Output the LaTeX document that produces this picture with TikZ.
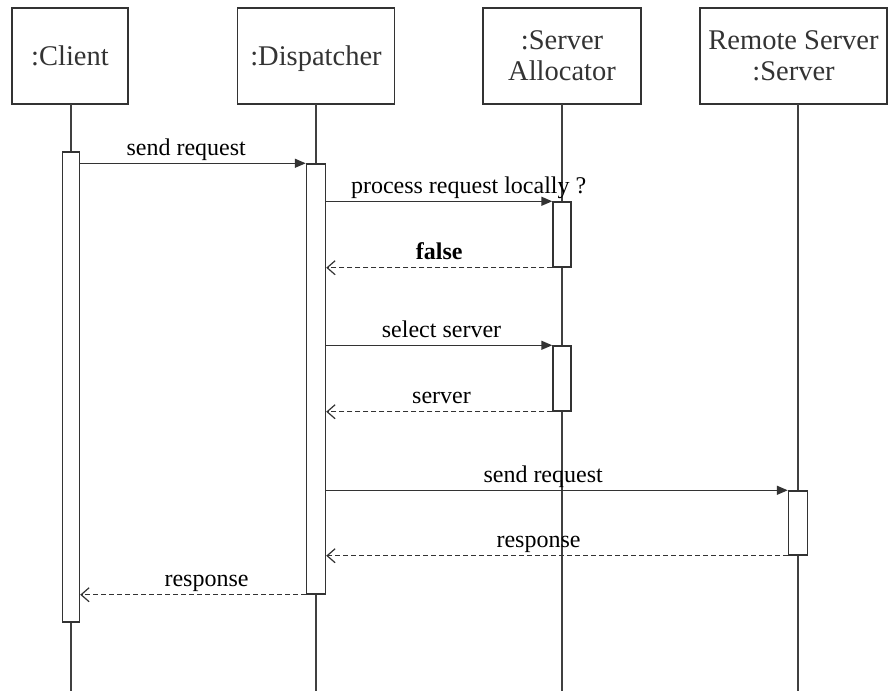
\documentclass[tikz,border=0pt]{standalone}
\usepackage{fontspec}
\setmainfont{Liberation Serif}
\usetikzlibrary{arrows.meta}
\begin{document}
\begin{tikzpicture}[x=1pt,y=-1pt,
  line width=1.45pt, color=black!80,
  actor/.style={draw, fill=white, inner sep=0pt, align=center, minimum height=96pt,
    font=\fontsize{28.5}{31}\selectfont},
  oneline/.style={text height=18pt, text depth=0pt},
  activation/.style={draw, fill=white, inner sep=0pt, minimum width=18pt},
  lifeline/.style={draw=black!75},
  call/.style={-{Triangle[length=11pt,width=9pt]}},
  reply/.style={-{Straight Barb[length=8pt,width=14pt,line width=1.2pt]}, dash pattern=on 5pt off 3pt},
  msg/.style={anchor=base, yshift=8pt, inner sep=0pt, text=black, font=\fontsize{24}{27}\selectfont},
]
\useasboundingbox (0,0) rectangle (888,691);

% participants
\node[actor, oneline, minimum width=116pt] (client) at (70,56) {:Client};
\node[actor, oneline, minimum width=157pt] (disp) at (316,56) {:Dispatcher};
\node[actor, minimum width=158pt] (alloc) at (562,56) {:Server\\Allocator};
\node[actor, minimum width=187pt] (remote) at (793.5,56) {Remote Server\\:Server};

% lifelines
\coordinate (bottom) at (0,691);
\coordinate (ctop) at (71,104);
\coordinate (dtop) at (316,104);
\coordinate (atop) at (562,104);
\coordinate (rtop) at (798,104);
\foreach \p in {ctop,dtop,atop,rtop}
  \draw[lifeline] (\p) -- (\p |- bottom);

% activation bars
\node[activation, minimum width=17pt, minimum height=470pt] (cbar) at (71,387) {};
\node[activation, minimum width=19pt, minimum height=430pt] (dbar) at (316,379) {};
\node[activation, minimum height=65pt] (abarA) at (562,234.5) {};
\node[activation, minimum height=65pt] (abarB) at (562,378.5) {};
\node[activation, minimum width=19pt, minimum height=64pt] (rbar) at (798,523) {};

% messages
\draw[call] (cbar.east |- dbar.north) -- (dbar.north west)
  node[msg, pos=0.47] {send request};
\draw[call] (dbar.east |- abarA.north) -- (abarA.north west)
  node[msg, pos=0.63] {process request locally ?};
\draw[reply] (abarA.south west) -- (dbar.east |- abarA.south)
  node[msg, pos=0.5, font=\fontsize{24}{27}\selectfont\bfseries] {false};
\draw[call] (dbar.east |- abarB.north) -- (abarB.north west)
  node[msg, pos=0.51] {select server};
\draw[reply] (abarB.south west) -- (dbar.east |- abarB.south)
  node[msg, pos=0.49] {server};
\draw[call] (dbar.east |- rbar.north) -- (rbar.north west)
  node[msg, pos=0.47] {send request};
\draw[reply] (rbar.south west) -- (dbar.east |- rbar.south)
  node[msg, pos=0.54] {response};
\draw[reply] (dbar.south west) -- (cbar.east |- dbar.south)
  node[msg, pos=0.44] {response};
\end{tikzpicture}
\end{document}
